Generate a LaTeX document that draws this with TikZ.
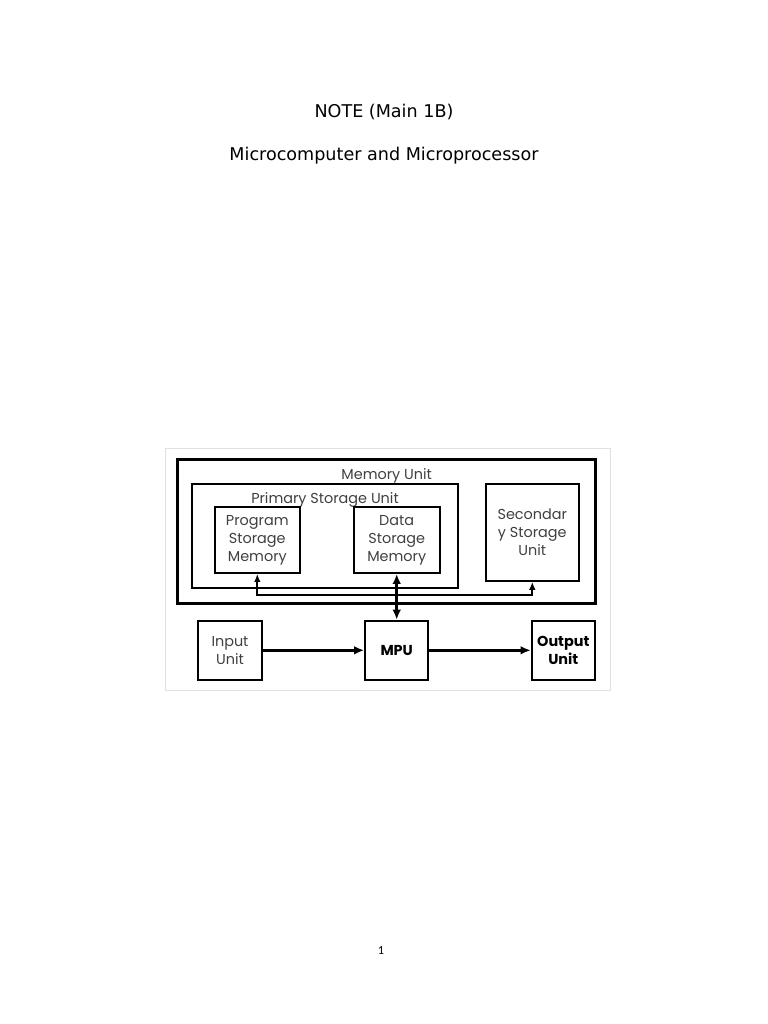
\documentclass[tikz,border=0pt]{standalone}
\usepackage{fontspec}
\setmainfont{Carlito}
\newfontfamily\diagfont{Poppins}
\newfontfamily\notefont{DejaVu Sans}
\usetikzlibrary{arrows.meta, positioning}
\tikzset{
	unit/.style={draw, line width=1.6pt, inner sep=0pt, align=center,
		font=\diagfont\fontsize{12.3pt}{15.6pt}\selectfont, text=black!75},
	outer/.style={draw, line width=2.5pt, inner sep=0pt},
	label/.style={font=\diagfont\fontsize{12.3pt}{15.6pt}\selectfont, text=black!75},
	heading/.style={font=\notefont\fontsize{15pt}{17pt}\selectfont},
	link/.style={line width=2.4pt, {Latex[length=3mm, width=2.6mm]}-{Latex[length=3mm, width=2.6mm]}},
	flow/.style={line width=2.4pt, -{Latex[length=3mm, width=2.6mm]}},
	bus/.style={line width=1.6pt, {Latex[length=2.4mm, width=2mm]}-{Latex[length=2.4mm, width=2mm]}}
}

\begin{document}
\begin{tikzpicture}[x=0.03cm, y=-0.03cm]
	\useasboundingbox (0,0) rectangle (768,1024);
	\fill[white] (0,0) rectangle (768,1024);
	
	% --- Headings ---
	\node[heading] (note) at (384,112) {NOTE (Main 1B)};
	\node[heading] (topic) at (384,156) {Microcomputer and Microprocessor};
	
	% --- Picture frame ---
	\draw[black!12, line width=0.6pt] (165,448) rectangle (610,690);
	
	% --- Memory Unit ---
	\node[outer, minimum width=12.52cm, minimum height=4.34cm] (mem) at (386.4,531.4) {};
	\node[label] (memlab) at (386.7,476) {Memory Unit};
	
	% Primary Storage Unit
	\node[unit, minimum width=7.98cm, minimum height=3.14cm] (prim) at (325.3,536) {};
	\node[label] (primlab) at (325,500) {Primary Storage Unit};
	\node[unit, fill=white, minimum width=2.54cm, minimum height=1.97cm] (prog) at (257.3,540.2) {Program\\Storage\\Memory};
	\node[unit, fill=white, minimum width=2.58cm, minimum height=1.97cm] (data) at (396.7,540.2) {Data\\Storage\\Memory};
	
	% Secondary Storage Unit
	\node[unit, minimum width=2.8cm, minimum height=2.92cm] (sec) at (532.3,532.3) {Secondar\\y Storage\\Unit};
	
	% --- Input / MPU / Output ---
	\node[unit, minimum width=1.9cm, minimum height=1.78cm] (input) at (230,650.3) {Input\\Unit};
	\node[unit, minimum width=1.9cm, minimum height=1.78cm, font=\diagfont\bfseries\fontsize{12.3pt}{15.6pt}\selectfont, text=black] (mpu) at (396.7,650.3) {MPU};
	\node[unit, minimum width=1.9cm, minimum height=1.78cm, font=\diagfont\bfseries\fontsize{12.3pt}{15.6pt}\selectfont, text=black] (output) at (563.3,650.3) {Output\\Unit};
	
	% --- Connectors ---
	\coordinate (busy) at (0,595);
	\draw[bus] (prog.south) -- (prog.south |- busy) -- (sec.south |- busy) -- (sec.south);
	\draw[link] (data.south) -- (mpu.north);
	\draw[flow] (input) -- (mpu);
	\draw[flow] (mpu) -- (output);
	
	% --- Page number ---
	\node[font=\fontsize{10.5pt}{12pt}\selectfont] (page) at (381,951) {1};
\end{tikzpicture}
\end{document}
